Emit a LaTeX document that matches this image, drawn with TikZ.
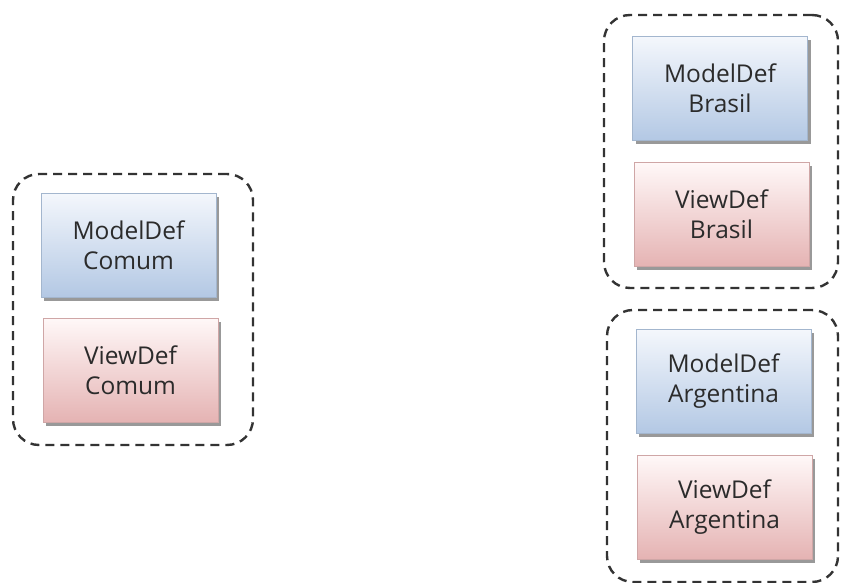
\documentclass[tikz,border=0pt]{standalone}
\usepackage{fontspec}
\setmainfont{Open Sans}
\usetikzlibrary{shadows}
\definecolor{modtop}{HTML}{F4F7FC}
\definecolor{modbot}{HTML}{B3C8E4}
\definecolor{modline}{HTML}{A3B6CE}
\definecolor{viewtop}{HTML}{FFF8F8}
\definecolor{viewbot}{HTML}{E5B3B3}
\definecolor{viewline}{HTML}{CFA6A6}
\definecolor{txt}{HTML}{2B2B2B}
\definecolor{dashc}{HTML}{333333}
\tikzset{
  box/.style={rectangle, line width=0.8pt, minimum width=175pt, minimum height=104pt,
    align=center, text=txt, font=\fontsize{24.5}{30}\selectfont,
    drop shadow={shadow xshift=3pt, shadow yshift=-3.5pt, fill=black, opacity=0.4}},
  modelbox/.style={box, draw=modline, top color=modtop, bottom color=modbot},
  viewbox/.style={box, draw=viewline, top color=viewtop, bottom color=viewbot},
  groupbox/.style={rectangle, draw=dashc, line width=2.4pt, dash pattern=on 9pt off 6pt,
    rounded corners=26pt, inner sep=0pt}
}
\begin{document}
\begin{tikzpicture}[x=1pt,y=-1pt]
\useasboundingbox (0,0) rectangle (841,583);
% groups
\node[groupbox, minimum width=240pt, minimum height=271pt] (gcomum) at (133,309.5) {};
\node[groupbox, minimum width=234pt, minimum height=273pt] (gbrasil) at (721,151.5) {};
\node[groupbox, minimum width=231pt, minimum height=272pt] (garg) at (722.5,446) {};
% boxes
\node[modelbox] (mcomum) at (128.5,245) {ModelDef\\Comum};
\node[viewbox] (vcomum) at (130.5,370) {ViewDef\\Comum};
\node[modelbox] (mbrasil) at (720,88.5) {ModelDef\\Brasil};
\node[viewbox] (vbrasil) at (721.5,214.5) {ViewDef\\Brasil};
\node[modelbox] (marg) at (723.5,381.5) {ModelDef\\Argentina};
\node[viewbox] (varg) at (724.5,507) {ViewDef\\Argentina};
\end{tikzpicture}
\end{document}
